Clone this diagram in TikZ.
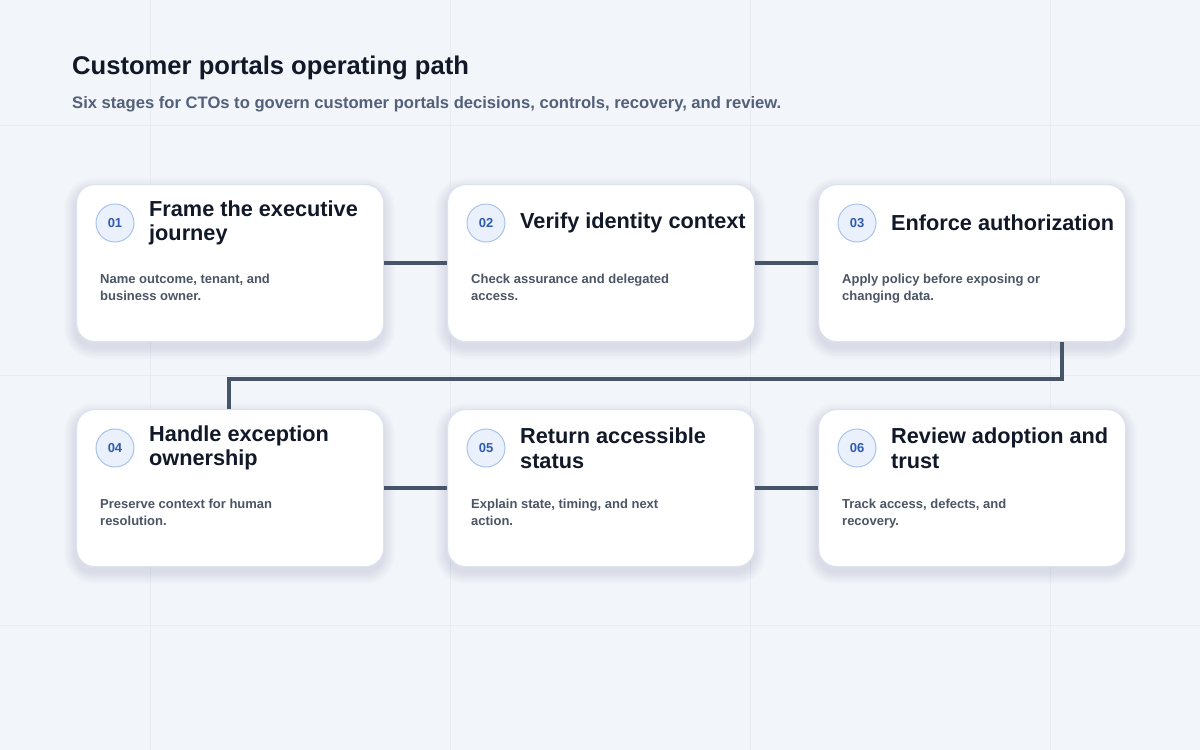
\documentclass[tikz,border=0pt]{standalone}
\usepackage{fontspec}
\setmainfont{Liberation Sans}
\definecolor{bg}{HTML}{F2F5FA}
\definecolor{gridc}{HTML}{E9EDF3}
\definecolor{ink}{HTML}{111827}
\definecolor{sub}{HTML}{536079}
\definecolor{body}{HTML}{4B5565}
\definecolor{line}{HTML}{475569}
\definecolor{badge}{HTML}{EAF1FC}
\definecolor{badgeb}{HTML}{A9C3EC}
\definecolor{badget}{HTML}{2F5BAE}
\definecolor{cardb}{HTML}{DCE3EE}
\definecolor{shad}{HTML}{1E2A4A}
\tikzset{
 card/.style={draw=cardb,line width=1.2pt,fill=white,rounded corners=18pt,minimum width=307pt,minimum height=157pt,anchor=north west},
 badge/.style={circle,draw=badgeb,fill=badge,line width=1pt,minimum size=38pt,inner sep=0pt,text=badget,font=\fontsize{13}{13}\selectfont\bfseries},
 ttl/.style={anchor=west,align=left,text=ink,font=\fontsize{21.7}{24.5}\selectfont\bfseries,inner sep=0pt},
 bdy/.style={anchor=north west,align=left,text=body,font=\fontsize{13}{17}\selectfont\bfseries,inner sep=0pt},
 conn/.style={draw=line,line width=4pt}
}
\begin{document}
\begin{tikzpicture}[x=1pt,y=-1pt]
\fill[bg] (0,0) rectangle (1200,750);
\useasboundingbox (0,0) rectangle (1200,750);
\foreach \x in {150,450,750,1050} \draw[gridc,line width=0.8pt] (\x,0)--(\x,750);
\foreach \y in {125,375,625} \draw[gridc,line width=0.8pt] (0,\y)--(1200,\y);
\node[anchor=west,inner sep=0pt,text=ink,font=\fontsize{25.6}{28}\selectfont\bfseries] (title) at (72,68) {Customer portals operating path};
\node[anchor=west,inner sep=0pt,text=sub,font=\fontsize{16.6}{18}\selectfont\bfseries] (subtitle) at (72,104) {Six stages for CTOs to govern customer portals decisions, controls, recovery, and review.};
\def\mk#1#2#3#4#5{%
 \foreach \i in {1,...,8}{\fill[shad,opacity=0.012,rounded corners={18pt+\i*1.5pt}] (#2-\i*1.5,#3+6-\i*1.5) rectangle (#2+307+\i*1.5,#3+163+\i*1.5);}
 \node[card] (c#1) at (#2,#3) {};
 \node[badge] (b#1) at (#2+39,#3+39) {0#1};
 \node[ttl] (t#1) at (#2+73,#3+39) {#4};
 \node[bdy] (d#1) at (#2+24,#3+90) {#5};}
\mk{1}{76}{184}{Frame the executive\\journey}{Name outcome, tenant, and\\business owner.}
\mk{2}{447}{184}{Verify identity context}{Check assurance and delegated\\access.}
\mk{3}{818}{184}{Enforce authorization}{Apply policy before exposing or\\changing data.}
\mk{4}{76}{409}{Handle exception\\ownership}{Preserve context for human\\resolution.}
\mk{5}{447}{409}{Return accessible\\status}{Explain state, timing, and next\\action.}
\mk{6}{818}{409}{Review adoption and\\trust}{Track access, defects, and\\recovery.}
\coordinate (k1) at (1062,379);
\coordinate (k2) at (229,379);
\draw[conn] (c1.east)--(c2.west);
\draw[conn] (c2.east)--(c3.west);
\draw[conn] (c3.south east -| k1)--(k1)--(k2)--(c4.north west -| k2);
\draw[conn] (c4.east)--(c5.west);
\draw[conn] (c5.east)--(c6.west);
\end{tikzpicture}
\end{document}
